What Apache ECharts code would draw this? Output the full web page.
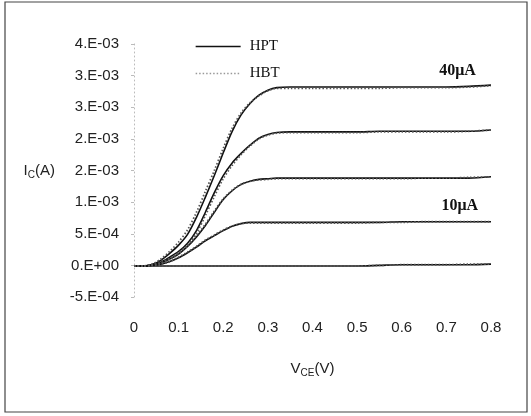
<!DOCTYPE html>
<html>
<head>
<meta charset="utf-8">
<script src="https://cdn.jsdelivr.net/npm/echarts@6/dist/echarts.min.js"></script>
<style>html,body{margin:0;padding:0;background:#fff}#c{width:531px;height:416px}</style>
</head>
<body>
<div id="c"></div>
<script>
var vce = [0, 0.02, 0.04, 0.06, 0.08, 0.10, 0.12, 0.14, 0.16, 0.18, 0.20, 0.22, 0.24, 0.26, 0.28, 0.30, 0.32, 0.35, 0.40, 0.45, 0.50, 0.55, 0.60, 0.65, 0.70, 0.75, 0.80];

var hpt40 = [-1e-5, -1e-5, 1e-5, 8e-5, 1.9e-4, 3.2e-4, 4.9e-4, 7.6e-4, 1.08e-3, 1.42e-3, 1.78e-3, 2.12e-3, 2.38e-3, 2.56e-3, 2.69e-3, 2.77e-3, 2.81e-3, 2.82e-3, 2.82e-3, 2.82e-3, 2.82e-3, 2.82e-3, 2.82e-3, 2.82e-3, 2.82e-3, 2.83e-3, 2.85e-3];
var hpt30 = [-1e-5, -1e-5, 1e-5, 5e-5, 1.3e-4, 2.2e-4, 3.5e-4, 5.5e-4, 8.4e-4, 1.15e-3, 1.42e-3, 1.62e-3, 1.77e-3, 1.90e-3, 2.01e-3, 2.07e-3, 2.10e-3, 2.11e-3, 2.11e-3, 2.11e-3, 2.11e-3, 2.12e-3, 2.12e-3, 2.12e-3, 2.12e-3, 2.12e-3, 2.14e-3];
var hpt20 = [-1e-5, -1e-5, 1e-5, 4e-5, 1.0e-4, 1.8e-4, 3.0e-4, 4.5e-4, 6.3e-4, 8.4e-4, 1.04e-3, 1.18e-3, 1.28e-3, 1.33e-3, 1.36e-3, 1.37e-3, 1.38e-3, 1.38e-3, 1.38e-3, 1.38e-3, 1.38e-3, 1.38e-3, 1.38e-3, 1.38e-3, 1.38e-3, 1.38e-3, 1.40e-3];
var hpt10 = [-1e-5, -1e-5, 0, 2e-5, 6e-5, 1.2e-4, 2.0e-4, 2.9e-4, 3.9e-4, 4.7e-4, 5.5e-4, 6.2e-4, 6.6e-4, 6.8e-4, 6.8e-4, 6.8e-4, 6.8e-4, 6.8e-4, 6.8e-4, 6.8e-4, 6.8e-4, 6.8e-4, 6.9e-4, 6.9e-4, 6.9e-4, 6.9e-4, 6.9e-4];
var hpt0  = [-1e-5, -1e-5, -1e-5, -1e-5, -1e-5, -1e-5, -1e-5, -1e-5, -1e-5, -1e-5, -1e-5, -1e-5, -1e-5, -1e-5, -1e-5, -1e-5, -1e-5, -1e-5, -1e-5, -1e-5, -1e-5, 0, 1e-5, 1e-5, 1e-5, 1e-5, 2e-5];

var hbt40 = [-1e-5, -1e-5, 2e-5, 1.0e-4, 2.2e-4, 3.7e-4, 5.6e-4, 8.4e-4, 1.17e-3, 1.50e-3, 1.85e-3, 2.17e-3, 2.41e-3, 2.57e-3, 2.68e-3, 2.76e-3, 2.80e-3, 2.80e-3, 2.80e-3, 2.80e-3, 2.80e-3, 2.80e-3, 2.81e-3, 2.81e-3, 2.81e-3, 2.82e-3, 2.84e-3];
var hbt30 = [-1e-5, -1e-5, 1e-5, 4e-5, 1.1e-4, 2.0e-4, 3.2e-4, 5.1e-4, 7.9e-4, 1.09e-3, 1.37e-3, 1.58e-3, 1.75e-3, 1.89e-3, 2.00e-3, 2.06e-3, 2.09e-3, 2.10e-3, 2.10e-3, 2.10e-3, 2.10e-3, 2.11e-3, 2.11e-3, 2.11e-3, 2.11e-3, 2.12e-3, 2.14e-3];
var hbt20 = [-1e-5, -1e-5, 1e-5, 4e-5, 1.0e-4, 1.9e-4, 3.1e-4, 4.7e-4, 6.5e-4, 8.6e-4, 1.05e-3, 1.19e-3, 1.28e-3, 1.33e-3, 1.35e-3, 1.36e-3, 1.37e-3, 1.37e-3, 1.37e-3, 1.37e-3, 1.37e-3, 1.37e-3, 1.37e-3, 1.38e-3, 1.38e-3, 1.39e-3, 1.40e-3];
var hbt10 = [-1e-5, -1e-5, 0, 2e-5, 6e-5, 1.3e-4, 2.1e-4, 3.0e-4, 4.0e-4, 4.8e-4, 5.6e-4, 6.2e-4, 6.6e-4, 6.7e-4, 6.7e-4, 6.7e-4, 6.7e-4, 6.7e-4, 6.7e-4, 6.7e-4, 6.7e-4, 6.8e-4, 6.8e-4, 6.9e-4, 6.9e-4, 6.9e-4, 6.9e-4];
var hbt0  = [-1e-5, -1e-5, -1e-5, -1e-5, -1e-5, -1e-5, -1e-5, -1e-5, -1e-5, -1e-5, -1e-5, -1e-5, -1e-5, -1e-5, -1e-5, -1e-5, -1e-5, -1e-5, -1e-5, -1e-5, -1e-5, 0, 1e-5, 1e-5, 1e-5, 2e-5, 2e-5];

var xTickLabels = ['0', '0.1', '0.2', '0.3', '0.4', '0.5', '0.6', '0.7', '0.8'];
var yTickLabels = ['-5.E-04', '0.E+00', '5.E-04', '1.E-03', '2.E-03', '2.E-03', '3.E-03', '3.E-03', '4.E-03'];

var curveLabels = [{text: '40\u03bcA', at: [0.725, 2.82e-3]}, {text: '10\u03bcA', at: [0.73, 6.9e-4]}];

function pairs(ys) { return vce.map(function (x, i) { return [x, ys[i]]; }); }

function hpt(ys, mark) {
  var s = {
    name: 'HPT', type: 'line', data: pairs(ys), showSymbol: false, symbol: 'none',
    smooth: 0.3, lineStyle: {color: '#111', width: 1.6, type: 'solid'}, itemStyle: {color: '#111'},
    z: 3, silent: true
  };
  if (mark) {
    s.markPoint = {
      symbol: 'circle', symbolSize: 0, silent: true,
      data: [{coord: mark.at, label: {show: true, formatter: mark.text, position: 'top', distance: 8,
        fontFamily: 'Liberation Serif', fontSize: 16, fontWeight: 'bold', color: '#111'}}]
    };
  }
  return s;
}
function hbt(ys) {
  return {
    name: 'HBT', type: 'line', data: pairs(ys), showSymbol: false, symbol: 'none',
    smooth: 0.3, lineStyle: {color: '#555', width: 1.8, type: [1.5, 2]}, itemStyle: {color: '#888'},
    z: 4, silent: true
  };
}

var chart = echarts.init(document.getElementById('c'));
chart.setOption({
  animation: false,
  backgroundColor: '#fff',
  graphic: [{type: 'rect', shape: {x: 5, y: 2, width: 522, height: 410}, style: {fill: 'none', stroke: '#444', lineWidth: 1.2}, silent: true}],
  legend: {
    show: true,
    data: [
      {name: 'HPT', lineStyle: {color: '#111', width: 1.3}},
      {name: 'HBT', lineStyle: {color: '#999', width: 1.3}}
    ],
    orient: 'vertical', left: 190, top: 34, itemWidth: 45, itemHeight: 14, itemGap: 12,
    selectedMode: false,
    itemStyle: {opacity: 0},
    textStyle: {fontFamily: 'Liberation Serif', fontSize: 15, color: '#111', padding: [0, 0, 0, 4]}
  },
  grid: {left: 134, right: 40, top: 44, bottom: 119, containLabel: false},
  xAxis: {
    type: 'value', min: 0, max: 0.8, interval: 0.1,
    axisLine: {show: false}, axisTick: {show: false}, splitLine: {show: false},
    axisLabel: {margin: 23, fontFamily: 'Liberation Sans', fontSize: 15, color: '#222',
      formatter: function (v, i) { return xTickLabels[i]; }},
    name: '{a|V}{b|CE}{a|(V)}', nameLocation: 'middle', nameGap: 62,
    nameTextStyle: {rich: {
      a: {fontFamily: 'Liberation Sans', fontSize: 15, color: '#222'},
      b: {fontFamily: 'Liberation Sans', fontSize: 10, color: '#222', padding: [9, 0, 0, 0]}
    }}
  },
  yAxis: {
    type: 'value', min: -5e-4, max: 3.5e-3, interval: 5e-4,
    axisLine: {show: true, lineStyle: {color: '#bbb', width: 1, type: [1, 3]}},
    axisTick: {show: true, length: 3, lineStyle: {color: '#bbb'}},
    splitLine: {show: false},
    axisLabel: {margin: 15, fontFamily: 'Liberation Sans', fontSize: 15, color: '#222',
      formatter: function (v, i) { return yTickLabels[i]; }},
    name: '{a|I}{b|C}{a|(A)}', nameLocation: 'middle', nameRotate: 0, nameGap: 79,
    nameTextStyle: {align: 'right', rich: {
      a: {fontFamily: 'Liberation Sans', fontSize: 15, color: '#222'},
      b: {fontFamily: 'Liberation Sans', fontSize: 10, color: '#222', padding: [9, 0, 0, 0]}
    }}
  },
  series: [
    hpt(hpt0), hpt(hpt10, curveLabels[1]), hpt(hpt20), hpt(hpt30), hpt(hpt40, curveLabels[0]),
    hbt(hbt0), hbt(hbt10), hbt(hbt20), hbt(hbt30), hbt(hbt40)
  ]
});
</script>
</body>
</html>
